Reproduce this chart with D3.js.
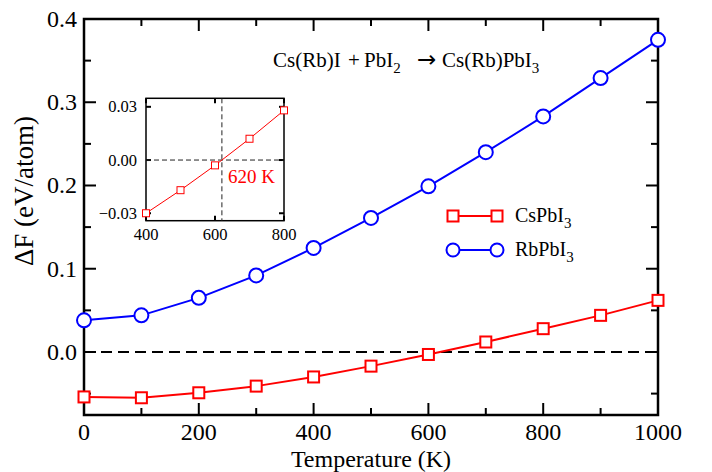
<!DOCTYPE html>
<html>
<head>
<meta charset="utf-8">
<script src="https://cdn.jsdelivr.net/npm/d3@7"></script>
<style>
  body { margin: 0; background: #fff; }
</style>
</head>
<body>
<div id="chart"></div>
<script>
// data
const temps = [0, 100, 200, 300, 400, 500, 600, 700, 800, 900, 1000];
const csPbI3 = [-0.054, -0.055, -0.049, -0.041, -0.030, -0.017, -0.003, 0.012, 0.028, 0.044, 0.062];
const rbPbI3 = [0.038, 0.044, 0.065, 0.092, 0.125, 0.161, 0.199, 0.240, 0.283, 0.329, 0.375];
const xTicks = [0, 200, 400, 600, 800, 1000];
const yTicks = [0.0, 0.1, 0.2, 0.3, 0.4];
const insetTemps = [400, 500, 600, 700, 800];
const insetXTicks = [400, 600, 800];
const insetYTicks = [-0.03, 0.00, 0.03];
const crossT = 620;

const W = 712, H = 472;
const svg = d3.select('#chart').append('svg')
  .attr('width', W).attr('height', H)
  .attr('font-family', "'Liberation Serif', 'Times New Roman', serif");

// Escalas
const x = d3.scaleLinear().domain([0, 1000]).range([84, 658]);
const y = d3.scaleLinear().domain([-0.0757, 0.4]).range([415, 19]);

// ticks hacia dentro
function inTicks(g, scale, vals, len, side) {
  vals.forEach(v => {
    const p = scale(v);
    if (side === 'bottom') g.append('line').attr('x1', p).attr('x2', p).attr('y1', 415).attr('y2', 415 - len);
    if (side === 'top') g.append('line').attr('x1', p).attr('x2', p).attr('y1', 19).attr('y2', 19 + len);
    if (side === 'left') g.append('line').attr('y1', p).attr('y2', p).attr('x1', 84).attr('x2', 84 + len);
    if (side === 'right') g.append('line').attr('y1', p).attr('y2', p).attr('x1', 658).attr('x2', 658 - len);
  });
}
const ticksG = svg.append('g').attr('stroke', '#000').attr('stroke-width', 2);
const xMinor = d3.range(100, 1000, 200);
const yMinor = [-0.05, 0.05, 0.15, 0.25, 0.35];
['bottom', 'top'].forEach(s => { inTicks(ticksG, x, xTicks, 12, s); inTicks(ticksG, x, xMinor, 7, s); });
['left', 'right'].forEach(s => { inTicks(ticksG, y, yTicks, 12, s); inTicks(ticksG, y, yMinor, 7, s); });

svg.append('rect')
  .attr('x', 84).attr('y', 19).attr('width', 574).attr('height', 396)
  .attr('fill', 'none').attr('stroke', '#000').attr('stroke-width', 2.5);

svg.append('g').selectAll('text').data(xTicks).enter().append('text')
  .attr('x', d => x(d)).attr('y', 440)
  .attr('text-anchor', 'middle').attr('font-size', 24)
  .text(d => d);

svg.append('g').selectAll('text').data(yTicks).enter().append('text')
  .attr('x', 77).attr('y', d => y(d) + 8)
  .attr('text-anchor', 'end').attr('font-size', 24)
  .text(d => d3.format('.1f')(d));

svg.append('text')
  .attr('x', 371).attr('y', 467)
  .attr('text-anchor', 'middle').attr('font-size', 24)
  .text('Temperature (K)');

svg.append('text')
  .attr('transform', 'translate(33,191) rotate(-90)')
  .attr('text-anchor', 'middle').attr('font-size', 27)
  .text('\u0394F (eV/atom)');

// linea cero
svg.append('line')
  .attr('x1', x(0)).attr('x2', x(1000)).attr('y1', y(0)).attr('y2', y(0))
  .attr('stroke', '#000').attr('stroke-width', 2).attr('stroke-dasharray', '11,6');

// series
const line = d3.line().x((d, i) => x(temps[i])).y(d => y(d));

svg.append('path').datum(rbPbI3).attr('d', line)
  .attr('fill', 'none').attr('stroke', '#0000ff').attr('stroke-width', 2);
svg.append('g').selectAll('circle').data(rbPbI3).enter().append('circle')
  .attr('cx', (d, i) => x(temps[i])).attr('cy', d => y(d)).attr('r', 7)
  .attr('fill', '#fff').attr('stroke', '#0000ff').attr('stroke-width', 2);

svg.append('path').datum(csPbI3).attr('d', line)
  .attr('fill', 'none').attr('stroke', '#ff0000').attr('stroke-width', 2);
svg.append('g').selectAll('rect').data(csPbI3).enter().append('rect')
  .attr('x', (d, i) => x(temps[i]) - 5.5).attr('y', d => y(d) - 5.5)
  .attr('width', 11).attr('height', 11)
  .attr('fill', '#fff').attr('stroke', '#ff0000').attr('stroke-width', 2);

// leyenda
const leg = svg.append('g');
leg.append('line').attr('x1', 453).attr('x2', 497).attr('y1', 216).attr('y2', 216)
  .attr('stroke', '#ff0000').attr('stroke-width', 2);
[453, 497].forEach(px => leg.append('rect').attr('x', px - 5.5).attr('y', 210.5)
  .attr('width', 11).attr('height', 11).attr('fill', '#fff')
  .attr('stroke', '#ff0000').attr('stroke-width', 2));
leg.append('line').attr('x1', 453).attr('x2', 497).attr('y1', 250).attr('y2', 250)
  .attr('stroke', '#0000ff').attr('stroke-width', 2);
[453, 497].forEach(px => leg.append('circle').attr('cx', px).attr('cy', 250).attr('r', 6.5)
  .attr('fill', '#fff').attr('stroke', '#0000ff').attr('stroke-width', 2));

const t1 = leg.append('text').attr('x', 515).attr('y', 222).attr('font-size', 20);
t1.append('tspan').text('CsPbI');
t1.append('tspan').attr('dy', 6).attr('font-size', 15).text('3');
const t2 = leg.append('text').attr('x', 515).attr('y', 256).attr('font-size', 20);
t2.append('tspan').text('RbPbI');
t2.append('tspan').attr('dy', 6).attr('font-size', 15).text('3');

// ecuacion
const eq = svg.append('text').attr('y', 67).attr('font-size', 21);
eq.append('tspan').attr('x', 273).text('Cs(Rb)I');
eq.append('tspan').attr('x', 348).text('+');
eq.append('tspan').attr('x', 364).text('PbI');
eq.append('tspan').attr('dy', 6).attr('font-size', 15).text('2');
eq.append('tspan').attr('x', 417).attr('dy', -6).attr('font-family', "'DejaVu Sans', sans-serif").attr('font-size', 23).text('\u2192');
eq.append('tspan').attr('x', 442).attr('font-family', "'Liberation Serif', serif").attr('font-size', 21).text('Cs(Rb)PbI');
eq.append('tspan').attr('dy', 6).attr('font-size', 15).text('3');

// inset
const ix = d3.scaleLinear().domain([400, 800]).range([146, 284]);
const iy = d3.scaleLinear().domain([-0.0342, 0.0348]).range([220.7, 98.3]);
const inset = svg.append('g');
const iTicks = inset.append('g').attr('stroke', '#000').attr('stroke-width', 2);
insetXTicks.forEach(v => {
  iTicks.append('line').attr('x1', ix(v)).attr('x2', ix(v)).attr('y1', 220.7).attr('y2', 215.7);
  iTicks.append('line').attr('x1', ix(v)).attr('x2', ix(v)).attr('y1', 98.3).attr('y2', 103.3);
});
insetYTicks.forEach(v => {
  iTicks.append('line').attr('y1', iy(v)).attr('y2', iy(v)).attr('x1', 146).attr('x2', 151);
  iTicks.append('line').attr('y1', iy(v)).attr('y2', iy(v)).attr('x1', 284).attr('x2', 279);
});
inset.append('rect').attr('x', 146).attr('y', 98.3).attr('width', 138).attr('height', 122.4)
  .attr('fill', 'none').attr('stroke', '#000').attr('stroke-width', 1.5);

inset.append('line').attr('x1', 146).attr('x2', 284).attr('y1', iy(0)).attr('y2', iy(0))
  .attr('stroke', '#222').attr('stroke-width', 1).attr('stroke-dasharray', '5,3');
inset.append('line').attr('x1', ix(crossT)).attr('x2', ix(crossT)).attr('y1', 98.3).attr('y2', 220.7)
  .attr('stroke', '#222').attr('stroke-width', 1).attr('stroke-dasharray', '5,3');

const insetVals = insetTemps.map(t => csPbI3[temps.indexOf(t)]);
inset.append('path').datum(insetVals)
  .attr('d', d3.line().x((d, i) => ix(insetTemps[i])).y(d => iy(d)))
  .attr('fill', 'none').attr('stroke', '#ff0000').attr('stroke-width', 1);
inset.selectAll('rect.pt').data(insetVals).enter().append('rect')
  .attr('class', 'pt')
  .attr('x', (d, i) => ix(insetTemps[i]) - 3.5).attr('y', d => iy(d) - 3.5)
  .attr('width', 7).attr('height', 7)
  .attr('fill', '#fff').attr('stroke', '#ff0000').attr('stroke-width', 1);

inset.selectAll('text.xl').data(insetXTicks).enter().append('text')
  .attr('class', 'xl').attr('x', d => ix(d)).attr('y', 240)
  .attr('text-anchor', 'middle').attr('font-size', 16.5).text(d => d);
inset.selectAll('text.yl').data(insetYTicks).enter().append('text')
  .attr('class', 'yl').attr('x', 137).attr('y', d => iy(d) + 5.5)
  .attr('text-anchor', 'end').attr('font-size', 16.5)
  .text(d => d3.format('.2f')(d));

inset.append('text').attr('x', 228).attr('y', 183)
  .attr('font-size', 19).attr('fill', '#ff0000').text(crossT + ' K');
</script>
</body>
</html>
